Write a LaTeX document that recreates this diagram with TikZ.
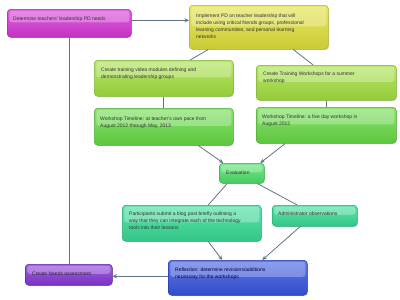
\documentclass[tikz,border=0pt]{standalone}
\usepackage{fontspec}
\setmainfont{Liberation Sans}
\usetikzlibrary{arrows.meta,calc,shadows}
\definecolor{magM}{RGB}{215,55,215}
\definecolor{magD}{RGB}{170,40,170}
\definecolor{yelM}{RGB}{225,225,60}
\definecolor{yelD}{RGB}{175,175,55}
\definecolor{lgrM}{RGB}{165,225,65}
\definecolor{lgrD}{RGB}{125,180,55}
\definecolor{grnM}{RGB}{105,220,70}
\definecolor{grnD}{RGB}{80,170,55}
\definecolor{evM}{RGB}{80,225,105}
\definecolor{evD}{RGB}{55,175,75}
\definecolor{tlM}{RGB}{55,220,150}
\definecolor{tlD}{RGB}{40,170,115}
\definecolor{blM}{RGB}{55,85,225}
\definecolor{blD}{RGB}{35,55,170}
\definecolor{puM}{RGB}{135,55,215}
\definecolor{puD}{RGB}{95,35,165}
\definecolor{lnk}{RGB}{95,117,133}
\tikzset{
  box/.style={rounded corners=3.5pt, line width=0.5pt, inner sep=0pt, anchor=north west,
    drop shadow={shadow xshift=0.8pt, shadow yshift=-0.8pt, opacity=0.25}},
  cbox/.style={box, draw=#1D, top color=#1M!80!white, middle color=#1M, bottom color=#1M!90!black,
    path picture={\fill[white, opacity=0.28, rounded corners=2.5pt]
      ($(path picture bounding box.north west)+(2pt,-1.5pt)$) rectangle
      ($(path picture bounding box.east)+(-2pt,1pt)$);}},
  txt/.style={anchor=north west, inner sep=0pt, align=left, font=\fontsize{5}{7}\selectfont, text=black!80},
  link/.style={draw=lnk, line width=0.8pt},
  arr/.style={link, -{Stealth[length=4.5pt,width=4pt]}}
}
\begin{document}
\begin{tikzpicture}[x=1pt,y=-1pt]
\useasboundingbox (0,0) rectangle (400,300);
% boxes
\node[cbox=mag, minimum width=124pt, minimum height=28pt] (n1) at (7,9) {};
\node[cbox=yel, minimum width=139pt, minimum height=44pt] (n2) at (189,5) {};
\node[cbox=lgr, minimum width=139pt, minimum height=36pt] (n3) at (94,60) {};
\node[cbox=grn, minimum width=139pt, minimum height=37pt] (n4) at (94,108) {};
\node[cbox=lgr, minimum width=140pt, minimum height=35pt] (n5) at (256,65) {};
\node[cbox=grn, minimum width=140pt, minimum height=36pt] (n6) at (256,107) {};
\node[cbox=ev, minimum width=45pt, minimum height=20pt] (ev) at (219,163) {};
\node[cbox=tl, minimum width=139pt, minimum height=36pt] (pa) at (122,205) {};
\node[cbox=tl, minimum width=85pt, minimum height=21pt] (ad) at (272,205) {};
\node[cbox=bl, minimum width=139pt, minimum height=35pt] (re) at (168,260) {};
\node[cbox=pu, minimum width=87pt, minimum height=21pt] (ne) at (25,264) {};
% texts
\node[txt] (t1) at ($(n1.north west)+(6,8)$) {Determine teachers' leadership PD needs};
\node[txt] (t2) at ($(n2.north west)+(7,8.5)$) {Implement PD on teacher leadership that will\\include using critical friends groups, professional\\learning communities, and personal learning\\networks};
\node[txt] (t3) at ($(n3.north west)+(7,8)$) {Create training video modules defining and\\demonstrating leadership groups};
\node[txt] (t4) at ($(n4.north west)+(6,9)$) {Workshop Timeline: at teacher's own pace from\\August 2012 through May, 2013};
\node[txt] (t5) at ($(n5.north west)+(7,7)$) {Create Training Workshops for a summer\\workshop};
\node[txt] (t6) at ($(n6.north west)+(6,8)$) {Workshop Timeline: a five day workshop in\\August 2012};
\node[txt] (tev) at ($(ev.north west)+(7,8)$) {Evaluation};
\node[txt] (tpa) at ($(pa.north west)+(7,7)$) {Participants submit a blog post briefly outlining a\\way that they can integrate each of the technology\\tools into their lessons};
\node[txt] (tad) at ($(ad.north west)+(6,7)$) {Administrator observations};
\node[txt, text=blue!25!black] (tre) at ($(re.north west)+(7,8)$) {Reflection: determine revisions/additions\\necessary for the workshops};
\node[txt, text=black!85] (tne) at ($(ne.north west)+(7,8)$) {Create Needs assessment};
% connectors
\draw[arr] ([yshift=3pt]n1.east) -- ([yshift=3pt]n1.east -| n2.west);
\draw[link] (n1.south) -- (n1.south |- ne.north);
\draw[link] ([xshift=-50.5pt]n2.south) -- ([xshift=26.5pt]n3.north);
\draw[link] ([xshift=34.5pt]n2.south) -- ([xshift=-13pt]n5.north);
\draw[link] (n3.south) -- (n4.north);
\draw[link] (n5.south) -- (n6.north);
\draw[arr] ([xshift=34.5pt]n4.south) -- ([xshift=-18.5pt]ev.north);
\draw[arr] ([xshift=-41pt]n6.south) -- ([xshift=18.5pt]ev.north);
\draw[link] ([xshift=-14.5pt]ev.south) -- ([xshift=16.5pt]pa.north);
\draw[link] ([xshift=15.5pt]ev.south) -- ([xshift=-17.5pt]ad.north);
\draw[arr] ([xshift=16.5pt]pa.south) -- ([xshift=-15.5pt]re.north);
\draw[arr] ([xshift=-14.5pt]ad.south) -- ([xshift=24.5pt]re.north);
\draw[arr] ([yshift=1.5pt]re.west) -- ([yshift=1.5pt]re.west -| ne.east);
\end{tikzpicture}
\end{document}
